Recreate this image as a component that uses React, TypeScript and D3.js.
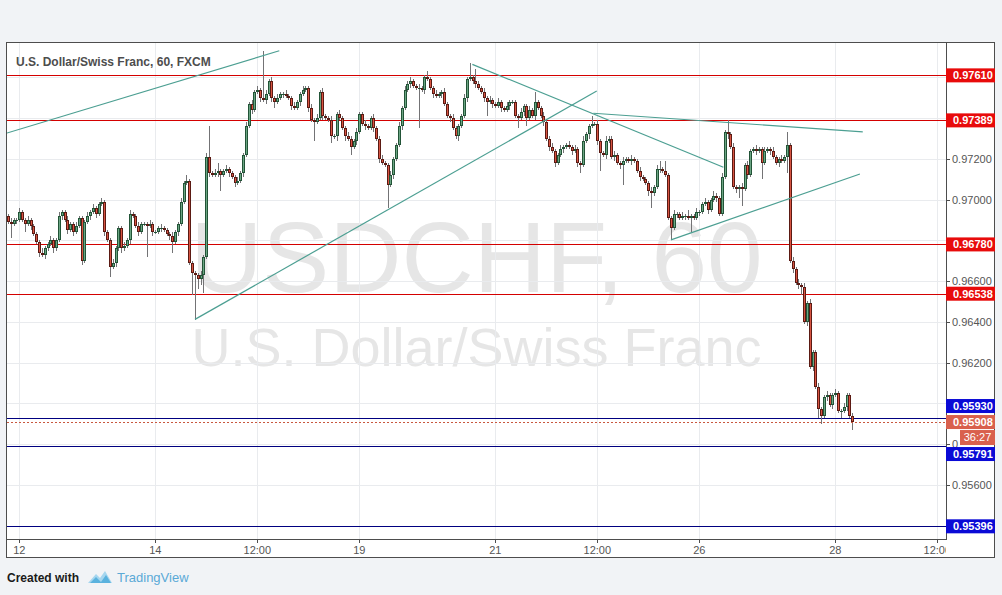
import React from "react";
import * as d3 from "d3";

// hourly USD/CHF closes in pips (0.9689 -> 9689), first candle is index -4 (11th 20:00)
const firstIndex = -4;
const firstOpen = 9692;
const closes = [
  9689, 9688, 9690, 9690, 9694, 9690, 9688, 9690, 9687, 9683,
  9679, 9674, 9673, 9676, 9678, 9680, 9676, 9680, 9692, 9694,
  9690, 9685, 9688, 9684, 9687, 9691, 9670, 9689, 9692, 9694,
  9696, 9693, 9698, 9699, 9684, 9680, 9667, 9669, 9676, 9686,
  9676, 9677, 9680, 9693, 9692, 9687, 9684, 9688, 9688, 9687,
  9688, 9684, 9684, 9686, 9686, 9685, 9683, 9682, 9679, 9684,
  9688, 9699, 9708, 9709, 9669, 9664, 9663, 9661, 9663, 9672,
  9721, 9713, 9712, 9713, 9714, 9712, 9714, 9715, 9713, 9711,
  9708, 9709, 9713, 9722, 9736, 9747, 9744, 9753, 9754, 9750,
  9749, 9752, 9758, 9750, 9748, 9750, 9752, 9752, 9751, 9750,
  9746, 9745, 9748, 9752, 9754, 9755, 9745, 9739, 9738, 9740,
  9753, 9741, 9740, 9739, 9731, 9731, 9742, 9740, 9735, 9731,
  9730, 9726, 9729, 9733, 9742, 9737, 9736, 9735, 9740, 9735,
  9730, 9720, 9718, 9717, 9707, 9712, 9720, 9727, 9736, 9745,
  9754, 9757, 9758, 9756, 9755, 9755, 9754, 9760, 9759, 9755,
  9752, 9751, 9752, 9753, 9747, 9741, 9740, 9735, 9731, 9736,
  9741, 9750, 9759, 9760, 9758, 9757, 9755, 9753, 9750, 9748,
  9749, 9747, 9746, 9748, 9745, 9744, 9746, 9748, 9748, 9741,
  9740, 9743, 9746, 9740, 9744, 9741, 9748, 9745, 9741, 9738,
  9730, 9726, 9724, 9718, 9722, 9725, 9726, 9727, 9726, 9724,
  9725, 9718, 9717, 9729, 9732, 9736, 9737, 9737, 9729, 9723,
  9722, 9729, 9730, 9721, 9722, 9718, 9717, 9719, 9720, 9719,
  9720, 9719, 9714, 9711, 9710, 9708, 9704, 9703, 9706, 9715,
  9715, 9714, 9712, 9691, 9686, 9693, 9693, 9691, 9692, 9692,
  9691, 9692, 9691, 9694, 9694, 9698, 9699, 9695, 9700, 9702,
  9701, 9693, 9711, 9733, 9732, 9726, 9706, 9705, 9706, 9705,
  9717, 9712, 9724, 9725, 9724, 9725, 9718, 9724, 9725, 9724,
  9721, 9718, 9720, 9719, 9721, 9727, 9670, 9666, 9659, 9658,
  9657, 9640, 9649, 9618, 9625, 9608, 9597, 9594, 9603, 9604,
  9599, 9604, 9605, 9596, 9596, 9598, 9604, 9594, 9591,
];
// wick length above / below the body, pips
const wickHi = [
  1, 2, 1, 1, 2, 1, 1, 2, 1, 1,
  1, 1, 2, 1, 1, 2, 1, 1, 2, 1,
  1, 2, 1, 1, 2, 1, 1, 1, 2, 1,
  2, 1, 1, 2, 1, 1, 1, 2, 1, 1,
  1, 2, 1, 2, 1, 1, 2, 1, 1, 1,
  2, 1, 1, 1, 2, 1, 1, 1, 2, 1,
  1, 2, 1, 3, 1, 1, 1, 1, 2, 1,
  2, 15, 1, 2, 4, 1, 1, 2, 1, 1,
  1, 2, 1, 1, 2, 1, 2, 1, 2, 1,
  23, 2, 1, 2, 1, 2, 1, 1, 2, 1,
  1, 2, 1, 1, 2, 1, 1, 2, 1, 2,
  1, 2, 1, 1, 2, 1, 1, 2, 1, 1,
  2, 1, 1, 2, 1, 1, 2, 1, 1, 2,
  1, 1, 2, 1, 1, 2, 1, 1, 2, 1,
  2, 1, 2, 1, 1, 2, 1, 1, 3, 1,
  1, 2, 1, 1, 2, 1, 1, 2, 1, 1,
  1, 2, 1, 7, 1, 6, 1, 1, 2, 1,
  2, 1, 1, 2, 1, 1, 2, 1, 1, 1,
  1, 2, 1, 1, 2, 1, 5, 1, 1, 2,
  1, 1, 2, 1, 1, 2, 1, 1, 2, 1,
  2, 1, 1, 2, 1, 1, 4, 1, 2, 1,
  1, 2, 1, 1, 2, 1, 1, 2, 1, 1,
  2, 1, 1, 2, 1, 1, 1, 2, 1, 2,
  4, 1, 5, 1, 1, 2, 1, 1, 2, 1,
  3, 1, 1, 2, 1, 1, 2, 1, 1, 2,
  1, 1, 2, 1, 6, 1, 2, 1, 1, 2,
  1, 2, 1, 1, 2, 1, 1, 2, 1, 1,
  2, 1, 1, 2, 1, 6, 1, 2, 1, 2,
  1, 2, 1, 2, 1, 1, 2, 1, 1, 2,
  1, 1, 2, 1, 1, 2, 1, 1, 1,
];
const wickLo = [
  1, 7, 1, 2, 1, 1, 4, 1, 2, 1,
  1, 2, 1, 2, 1, 1, 2, 1, 1, 2,
  1, 2, 1, 2, 1, 1, 2, 1, 1, 2,
  1, 2, 1, 1, 2, 1, 5, 1, 2, 1,
  2, 1, 1, 2, 1, 1, 2, 1, 1, 15,
  1, 2, 1, 1, 2, 1, 1, 2, 5, 1,
  2, 1, 1, 1, 1, 11, 22, 5, 3, 9,
  1, 2, 1, 1, 2, 8, 1, 1, 2, 1,
  2, 1, 1, 2, 1, 1, 2, 1, 1, 2,
  1, 2, 1, 2, 3, 1, 1, 2, 1, 1,
  2, 1, 1, 2, 1, 1, 2, 1, 9, 1,
  1, 2, 1, 1, 3, 1, 2, 1, 1, 2,
  1, 4, 1, 2, 1, 1, 2, 1, 1, 2,
  1, 2, 1, 1, 11, 1, 2, 1, 1, 2,
  1, 1, 2, 1, 1, 20, 1, 2, 1, 1,
  2, 1, 1, 2, 1, 1, 2, 1, 1, 2,
  1, 1, 2, 1, 1, 2, 1, 1, 2, 7,
  1, 2, 1, 1, 2, 1, 1, 2, 1, 1,
  5, 1, 2, 4, 1, 1, 2, 1, 1, 2,
  1, 2, 1, 2, 1, 1, 2, 1, 1, 2,
  1, 2, 4, 1, 1, 2, 1, 1, 2, 9,
  1, 2, 1, 1, 2, 1, 2, 10, 1, 1,
  2, 1, 1, 2, 1, 1, 2, 7, 1, 1,
  2, 1, 1, 1, 6, 1, 2, 1, 1, 2,
  1, 7, 1, 1, 2, 1, 1, 2, 1, 1,
  2, 1, 1, 1, 2, 1, 1, 2, 4, 8,
  1, 2, 1, 1, 2, 1, 8, 1, 1, 2,
  1, 1, 2, 1, 1, 8, 1, 2, 1, 2,
  4, 1, 2, 1, 2, 1, 4, 4, 1, 2,
  1, 2, 1, 1, 3, 1, 2, 1, 4,
];

const lastPrice = 0.95908;
const countdown = "36:27";
const redLevels = [0.9761, 0.97389, 0.9678, 0.96538];
const blueLevels = [0.9593, 0.95791, 0.95396];
// trend lines as [candle index, price] pairs
const trendLines: [number, number][][] = [
  [[-4.34, 0.97327], [91.76, 0.97731]],
  [[62.0, 0.96412], [203.8, 0.97533]],
  [[159.9, 0.97664], [248.5, 0.97159]],
  [[202.6, 0.97424], [297.7, 0.97333]],
  [[230.0, 0.96802], [296.7, 0.97126]],
];
const priceTicks = [0.954, 0.956, 0.958, 0.96, 0.962, 0.964, 0.966, 0.968, 0.97, 0.972, 0.974, 0.976];
const timeTicks = [0, 48, 84, 120, 168, 204, 240, 288, 324];
const timeLabels = ["12", "14", "12:00", "19", "21", "12:00", "26", "28", "12:00"];

const FONT = "'Liberation Sans', Arial, sans-serif";
const UP = { body: "#6ba583", border: "#225437" };
const DOWN = { body: "#d75442", border: "#5b1a13" };

const App: React.FC = () => {
  const W = 1002;
  const H = 595;
  const plot = { left: 7, right: 946, top: 43, bottom: 539 };

  const x = d3.scaleLinear().domain([0, 288]).range([19.3, 835.3]);
  const y = d3.scaleLinear().domain([0.954, 0.976]).range([525.5, 77.4]);

  const candles = closes.map((c, k) => {
    const o = k === 0 ? firstOpen : closes[k - 1];
    return {
      i: firstIndex + k,
      o: o / 10000,
      c: c / 10000,
      h: (Math.max(o, c) + wickHi[k]) / 10000,
      l: (Math.min(o, c) - wickLo[k]) / 10000,
    };
  });

  // price labels on the axis, pushed off the current price + countdown boxes
  const boxH = 14;
  const curY = y(lastPrice);
  const curTop = curY - boxH / 2;
  const cdTop = curTop + boxH + 1;
  const cdBottom = cdTop + 15;
  const levelLabels = [
    ...redLevels.map((v) => ({ v, fill: "#e80b0b", line: "#d40000" })),
    ...blueLevels.map((v) => ({ v, fill: "#0a0ad6", line: "#000080" })),
  ].map((d) => {
    let cy = y(d.v);
    if (cy + boxH / 2 > curTop - 2 && cy - boxH / 2 < cdBottom + 2) {
      cy = cy < curY ? curTop - 2 - boxH / 2 : cdBottom + 2 + boxH / 2;
    }
    return { ...d, cy };
  });

  // tick labels under a full-width price box are hidden;
  // the one under the countdown box only shows its leading digit
  const boxCenters = [...levelLabels.map((d) => d.cy), curY];
  const tickLabels = priceTicks
    .filter((t) => boxCenters.every((c) => Math.abs(y(t) - c) >= 10))
    .map((t) => {
      const hidden = y(t) + 4 > cdTop && y(t) - 4 < cdBottom;
      return { t, label: hidden ? t.toFixed(5).slice(0, 1) : t.toFixed(5) };
    });

  const line = d3
    .line<[number, number]>()
    .x((d) => x(d[0]))
    .y((d) => y(d[1]));

  return (
    <div style={{ position: "fixed", left: 0, top: 0 }}>
      <svg width={W} height={H} style={{ display: "block", fontFamily: FONT }}>
        <defs>
          <clipPath id="plotClip">
            <rect x={plot.left} y={plot.top} width={plot.right - plot.left} height={plot.bottom - plot.top} />
          </clipPath>
          <clipPath id="timeClip">
            <rect x={plot.left} y={plot.bottom} width={plot.right - plot.left} height={20} />
          </clipPath>
        </defs>

        <rect x={0} y={0} width={W} height={H} fill="#f1f3f6" />
        <rect x={7} y={43} width={988} height={515} fill="#ffffff" />

        {/* watermark */}
        <g fill="#e6e6e6" textAnchor="middle">
          <text x={(plot.left + plot.right) / 2} y={292} fontSize={100}>USDCHF, 60</text>
          <text x={(plot.left + plot.right) / 2} y={366} fontSize={54}>U.S. Dollar/Swiss Franc</text>
        </g>

        {/* grid */}
        <g stroke="#e9ebee" strokeWidth={1} shapeRendering="crispEdges">
          {priceTicks.map((t) => (
            <line key={t} x1={plot.left} x2={plot.right} y1={Math.round(y(t)) + 0.5} y2={Math.round(y(t)) + 0.5} />
          ))}
          {timeTicks.map((t) => (
            <line key={t} x1={Math.round(x(t)) + 0.5} x2={Math.round(x(t)) + 0.5} y1={plot.top} y2={plot.bottom} />
          ))}
        </g>

        <g clipPath="url(#plotClip)">
          {/* horizontal levels */}
          {levelLabels.map((d) => (
            <line
              key={d.v}
              x1={plot.left}
              x2={plot.right}
              y1={Math.round(y(d.v)) + 0.5}
              y2={Math.round(y(d.v)) + 0.5}
              stroke={d.line}
              strokeWidth={1}
              shapeRendering="crispEdges"
            />
          ))}

          {/* candles */}
          {candles.map((d) => {
            const cx = Math.round(x(d.i));
            const up = d.c >= d.o;
            const col = up ? UP : DOWN;
            const top = Math.round(y(Math.max(d.o, d.c)));
            const bot = Math.round(y(Math.min(d.o, d.c)));
            const hgt = Math.max(1, bot - top);
            return (
              <g key={d.i} shapeRendering="crispEdges">
                <line x1={cx + 0.5} x2={cx + 0.5} y1={y(d.h)} y2={y(d.l)} stroke="#737375" strokeWidth={1} />
                <rect x={cx - 1} y={top} width={3} height={hgt} fill={col.border} />
                {hgt > 2 && <rect x={cx} y={top + 1} width={1} height={hgt - 2} fill={col.body} />}
              </g>
            );
          })}

          {/* trend lines */}
          {trendLines.map((pts, k) => (
            <path key={k} d={line(pts) || ""} fill="none" stroke="#4c9f92" strokeWidth={1.2} />
          ))}

          {/* current price */}
          <line
            x1={plot.left}
            x2={plot.right}
            y1={Math.round(curY) + 0.5}
            y2={Math.round(curY) + 0.5}
            stroke="#c9583f"
            strokeDasharray="2,2"
            shapeRendering="crispEdges"
          />
        </g>

        {/* frame and axes */}
        <g stroke="#4d4d4d" strokeWidth={1} fill="none" shapeRendering="crispEdges">
          <rect x={6.5} y={42.5} width={988} height={515} />
          <line x1={plot.right + 0.5} x2={plot.right + 0.5} y1={plot.top} y2={plot.bottom + 0.5} />
          <line x1={plot.left} x2={plot.right} y1={plot.bottom + 0.5} y2={plot.bottom + 0.5} />
          {priceTicks.map((t) => (
            <line key={t} x1={plot.right} x2={plot.right + 4} y1={Math.round(y(t)) + 0.5} y2={Math.round(y(t)) + 0.5} />
          ))}
          {timeTicks.map((t) => (
            <line key={t} x1={Math.round(x(t)) + 0.5} x2={Math.round(x(t)) + 0.5} y1={plot.bottom} y2={plot.bottom + 4} />
          ))}
        </g>

        {/* price tick labels */}
        <g fill="#555" fontSize={11}>
          {tickLabels.map(({ t, label }) => (
            <text key={t} x={952} y={y(t) + 4}>{label}</text>
          ))}
        </g>

        {/* time labels */}
        <g fill="#555" fontSize={11} textAnchor="middle" clipPath="url(#timeClip)">
          {timeTicks.map((t, k) => (
            <text key={t} x={x(t)} y={554}>{timeLabels[k]}</text>
          ))}
        </g>

        {/* level labels */}
        <g fontSize={11} fontWeight="bold" fill="#fff">
          {levelLabels.map((d) => (
            <g key={d.v}>
              <rect x={plot.right} y={d.cy - boxH / 2} width={49} height={boxH} fill={d.fill} />
              <text x={953} y={d.cy + 4} fill="#fff">{d.v.toFixed(5)}</text>
            </g>
          ))}
          <rect x={plot.right} y={curTop} width={49} height={boxH} fill="#d9604d" />
          <text x={953} y={curY + 4}>{lastPrice.toFixed(5)}</text>
          <rect x={960} y={cdTop} width={35} height={15} fill="#d9604d" />
          <text x={977.5} y={cdTop + 11} textAnchor="middle" fontWeight="normal">{countdown}</text>
        </g>

        {/* title */}
        <text x={16} y={66} fontSize={12} fontWeight="bold" fill="#4d4d4d">
          U.S. Dollar/Swiss Franc, 60, FXCM
        </text>

        {/* footer */}
        <text x={7} y={582} fontSize={12} fontWeight="bold" fill="#1a1a1a">Created with</text>
        <g>
          <path d="M88,583 L96,574 L100,578 L105,571 L112,583 Z" fill="#a6d6ef" />
          <path d="M90,583 L96,577 L101,582 L106,575 L111,583 Z" fill="#5ab2de" />
        </g>
        <text x={117} y={582} fontSize={13} fill="#5aa9d6">TradingView</text>
      </svg>
    </div>
  );
};

export default App;
